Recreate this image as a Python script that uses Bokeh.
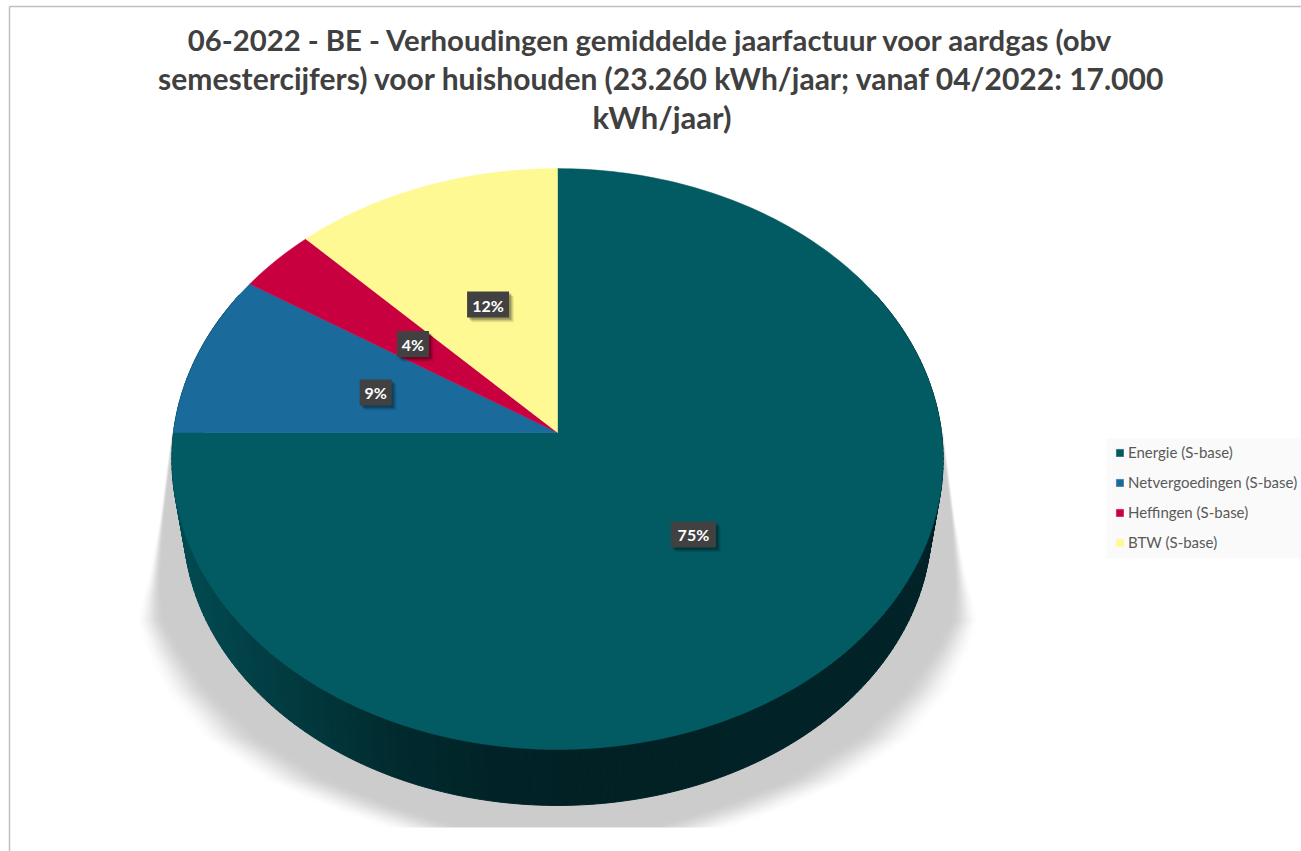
import numpy as np
from bokeh.plotting import figure
from bokeh.models import Legend, LegendItem
from bokeh.core.properties import value
from bokeh.embed import file_html
from bokeh.resources import INLINE

# --- chart data -------------------------------------------------------------
title_lines = [
    "06-2022 - BE - Verhoudingen gemiddelde jaarfactuur voor aardgas (obv",
    "semestercijfers) voor huishouden (23.260 kWh/jaar; vanaf 04/2022: 17.000",
    "kWh/jaar)",
]
categories = ["Energie (S-base)", "Netvergoedingen (S-base)", "Heffingen (S-base)", "BTW (S-base)"]
shares = [75.0, 9.1, 3.6, 12.3]
labels = ["75%", "9%", "4%", "12%"]
colors = ["#025b62", "#1a6a9c", "#c8003f", "#fff994"]

# --- layout -----------------------------------------------------------------
W, H = 1301, 851
CX, CY = 557.0, 432.0
RX, RY = 384.0, 288.0
PERSP = 0.0913
WALL_SCALE, WALL_DROP = 0.97, 65.5
FONT = "Lato"
LABEL_RADIUS = np.array([0.485, 0.5, 0.5, 0.5])


def project(theta, f=1.0, scale=1.0, drop=0.0):
    """Clockwise angle from 12 o'clock on a tilted disc -> page position."""
    u, v = f * np.sin(theta), f * np.cos(theta)
    s = scale / (1 + PERSP * v)
    return CX + RX * u * s, CY + drop - RY * v * s


p = figure(width=W, height=H, x_range=(0, W), y_range=(H, 0), output_backend="svg",
           toolbar_location=None, min_border=0, outline_line_color=None,
           margin=(0, 0, 0, 0))
p.axis.visible = False
p.grid.visible = False

# chart frame
p.line([9, 9], [H, 6], line_color="#c0c0c0", line_width=1.5)
p.line([9, W], [6, 6], line_color="#c0c0c0", line_width=1.5)

# soft floor shadow
ys, xs = np.mgrid[400:827, 120:1000]
ys = ys + 0.5
xs = xs + 0.5
dx = np.abs(xs - CX)
half_width = np.interp(ys, [432, 600, 620, 650, 690, 737, 780, 807, 830],
                       [385, 406, 407, 394, 370, 327, 260, 194, 125])
fade = np.interp(ys, [432, 520, 580, 620, 690, 780, 830], [2, 4, 14, 30, 50, 72, 90])
t = np.clip((half_width - dx) / fade + 0.5, 0, 1)
alpha = t * t * (3 - 2 * t)
alpha[ys < 432] = 0
img = np.zeros(xs.shape, dtype=np.uint32)
view = img.view(dtype=np.uint8).reshape(xs.shape + (4,))
view[..., 0] = view[..., 1] = view[..., 2] = 204
view[..., 3] = (alpha * 255).astype(np.uint8)
p.image_rgba(image=[img], x=120, y=400, dw=880, dh=427)

# side wall, as thin strips so that it darkens from left to right
wall_stops_x = [180, 300, 400, 500, 600, 950]
wall_stops = np.array([[1, 76, 82], [2, 58, 63], [1, 43, 47], [1, 35, 39], [1, 33, 37], [2, 36, 40]])
angles = np.radians(np.arange(60, 300.5, 1.0))
xs_w, ys_w, cols = [], [], []
for a, b in zip(angles[:-1], angles[1:]):
    x1, y1 = project(a)
    x2, y2 = project(b)
    x3, y3 = project(b, scale=WALL_SCALE, drop=WALL_DROP)
    x4, y4 = project(a, scale=WALL_SCALE, drop=WALL_DROP)
    xs_w.append([x1, x2, x3, x4])
    ys_w.append([y1, y2, y3, y4])
    mid = (x3 + x4) / 2
    rgb = [int(np.interp(mid, wall_stops_x, wall_stops[:, i])) for i in range(3)]
    cols.append("#%02x%02x%02x" % tuple(rgb))
p.patches(xs_w, ys_w, fill_color=cols, line_color=cols, line_width=1)

# top of the pie
edges = 2 * np.pi * np.concatenate([[0], np.cumsum(shares)]) / sum(shares)
renderers = []
for i, cat in enumerate(categories):
    arc = np.linspace(edges[i], edges[i + 1], 240)
    ax, ay = project(arc)
    r = p.patch(np.r_[CX, ax], np.r_[CY, ay], fill_color=colors[i], line_color=colors[i], line_width=0.5)
    renderers.append(r)

# value labels on their slices
mids = (edges[:-1] + edges[1:]) / 2
lx, ly = project(mids, f=LABEL_RADIUS)
box_w = np.array([45, 32, 32, 42])
box_h = 26
for k, alpha_k in [(6, 0.06), (5, 0.09), (4, 0.12), (3, 0.18)]:
    p.quad(left=lx - box_w / 2 + k - 1, right=lx + box_w / 2 + k - 1,
           top=ly - box_h / 2 + k - 1, bottom=ly + box_h / 2 + k - 1,
           fill_color="#000000", fill_alpha=alpha_k, line_color=None)
p.quad(left=lx - box_w / 2, right=lx + box_w / 2,
       top=ly - box_h / 2, bottom=ly + box_h / 2, fill_color="#414141", line_color=None)
p.text(lx, ly + 0.5, text=labels, text_color="#ffffff", text_align="center", text_baseline="middle",
       text_font=value(FONT), text_font_style="bold", text_font_size="16px")

# title
for line, tx, ty, size in zip(title_lines, [650.5, 661.5, 661.5], [39, 77, 116], ["29.3px", "30px", "31px"]):
    p.text([tx], [ty], text=[line], text_color="#404040", text_align="center",
           text_baseline="middle", text_font=value(FONT), text_font_style="bold", text_font_size=size)

# legend
p.quad(left=[1106], right=[W], top=[438], bottom=[558], fill_color="#fafafa", line_color=None)
legend = Legend(items=[LegendItem(label=c, renderers=[r]) for c, r in zip(categories, renderers)],
                location=(1115, H - 552), orientation="vertical", background_fill_alpha=0,
                border_line_color=None, glyph_width=9, glyph_height=9,
                label_text_font=FONT, label_text_font_size="15px", label_text_color="#595959",
                label_standoff=4, label_height=20, spacing=10, padding=0, margin=0)
p.add_layout(legend, "center")

open("out.html", "w").write(file_html(p, INLINE))
